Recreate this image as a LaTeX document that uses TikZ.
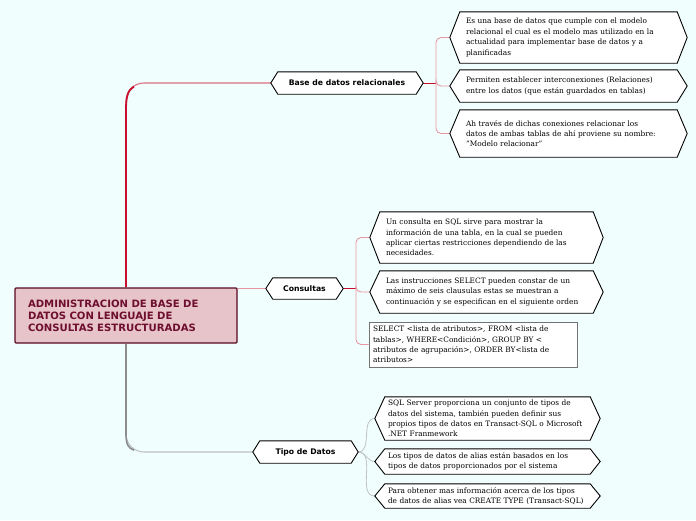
\documentclass[tikz,border=0pt]{standalone}
\usepackage{fontspec}
\setmainfont{DejaVu Serif}
\newfontfamily\sansbold{DejaVu Sans}
\usetikzlibrary{backgrounds}
\definecolor{bgc}{RGB}{240,255,254}
\definecolor{cfill}{RGB}{231,196,201}
\definecolor{cborder}{RGB}{90,10,34}
\definecolor{ctext}{RGB}{110,15,47}
\definecolor{redline}{RGB}{200,16,46}
\definecolor{pinkline}{RGB}{232,150,164}
\definecolor{grayline}{RGB}{140,140,140}
\definecolor{lgrayline}{RGB}{190,194,194}
\newcommand\hexout[2]{%
  \path[hexline] (#1.west) -- ([xshift=#2]#1.north west) -- ([xshift=-#2]#1.north east)
    -- (#1.east) -- ([xshift=-#2]#1.south east) -- ([xshift=#2]#1.south west) -- cycle;}
\begin{document}
\begin{tikzpicture}[x=1pt,y=-1pt,
  hexline/.style={draw=black,fill=white,line width=0.9pt,line join=miter},
  central/.style={draw=cborder,fill=cfill,line width=1.2pt,rounded corners=1pt,
    minimum width=222pt,minimum height=55pt,inner xsep=13pt,inner ysep=0pt,
    text width=196pt,align=left,text=ctext,
    font=\sansbold\bfseries\fontsize{10.1}{12}\selectfont},
  branch/.style={inner sep=0pt,minimum height=22pt,
    font=\sansbold\bfseries\fontsize{7.7}{9}\selectfont},
  child/.style={inner ysep=0pt,align=left,
    font=\fontsize{7.4}{10.4}\selectfont},
  rectchild/.style={draw=black!55,fill=white,line width=0.7pt,inner ysep=0pt,align=left,
    font=\fontsize{7.4}{10.4}\selectfont},
  redl/.style={draw=redline,line width=1pt},
  pinkl/.style={draw=pinkline,line width=0.9pt,rounded corners=5pt},
  grayl/.style={draw=lgrayline,line width=0.8pt}
]
\useasboundingbox (0,0) rectangle (696,520);

% nodes
\node[central] (root) at (126,315.5) {ADMINISTRACION DE BASE DE\\DATOS CON LENGUAJE DE\\CONSULTAS ESTRUCTURADAS};

\node[branch,minimum width=152pt] (b1) at (347,83) {Base de datos relacionales};
\node[branch,minimum width=77pt,minimum height=21pt] (b2) at (304.5,288.5) {Consultas};
\node[branch,minimum width=105pt] (b3) at (305.5,452) {Tipo de Datos};

\node[child,inner xsep=16pt,text width=205pt,minimum height=51pt] (c11) at (568.5,37.5)
 {Es una base de datos que cumple con el modelo\\relacional el cual es el modelo mas utilizado en la\\actualidad para implementar base de datos y a\\planificadas};
\node[child,inner xsep=16pt,text width=205pt,minimum height=32pt] (c12) at (568.5,86)
 {Permiten establecer interconexiones (Relaciones)\\entre los datos (que están guardados en tablas)};
\node[child,inner xsep=16pt,text width=205pt,minimum height=47pt] (c13) at (568.5,133.5)
 {Ah través de dichas conexiones relacionar los\\datos de ambas tablas de ahí proviene su nombre:\\"Modelo relacionar"};

\node[child,inner xsep=16pt,text width=201pt,minimum height=51pt] (c21) at (486.5,237.5)
 {Un consulta en SQL sirve para mostrar la\\información de una tabla, en la cual se pueden\\aplicar ciertas restricciones dependiendo de las\\necesidades.};
\node[child,inner xsep=16pt,text width=201pt,minimum height=42pt] (c22) at (486.5,292)
 {Las instrucciones SELECT pueden constar de un\\máximo de seis clausulas estas se muestran a\\continuación y se especifican en el siguiente orden};
\node[rectchild,inner xsep=4pt,text width=200pt,minimum height=45pt] (c23) at (473,344.5)
 {SELECT <lista de atributos>, FROM <lista de\\tablas>, WHERE<Condición>, GROUP BY <\\atributos de agrupación>, ORDER BY<lista de\\atributos>};

\node[child,inner xsep=13pt,text width=199pt,minimum height=43pt] (c31) at (487.5,418.5)
 {SQL Server proporciona un conjunto de tipos de\\datos del sistema, también pueden definir sus\\propios tipos de datos en Transact-SQL o Microsoft\\.NET Franmework};
\node[child,inner xsep=13pt,text width=199pt,minimum height=25pt] (c32) at (487.5,461.5)
 {Los tipos de datos de alias están basados en los\\tipos de datos proporcionados por el sistema};
\node[child,inner xsep=13pt,text width=199pt,minimum height=24pt] (c33) at (487.5,496)
 {Para obtener mas información acerca de los tipos\\de datos de alias vea CREATE TYPE (Transact-SQL)};

\coordinate (j1) at (436,83);
\coordinate (j2) at (356,288.5);

\begin{scope}[on background layer]
  \fill[bgc] (0,0) rectangle (696,520);
  % root to branch 1
  \draw[draw=pinkline!70!redline,line width=1.1pt,rounded corners=18pt] (root.north) |- (b1.west);
  \draw[draw=redline,line width=2.6pt] (root.north) -- (root.north |- 0,108);
  \draw[draw=redline,line width=1.8pt] (root.north |- 0,110) .. controls (126,96) and (128,90) .. (134,86.5);
  % root to branch 2
  \draw[draw=pinkline,line width=1pt] (b2.west -| root.east) -- (b2.west);
  % root to branch 3
  \draw[draw=lgrayline,line width=1.1pt,rounded corners=18pt] (root.south) |- (b3.west);
  \draw[draw=grayline,line width=2.6pt] (root.south) -- (root.south |- 0,436);
  \draw[draw=grayline,line width=1.6pt] (root.south |- 0,434) .. controls (126,444) and (128,448) .. (134,450.2);
  % branch 1 children
  \draw[redl] (b1.east) -- (j1);
  \draw[pinkl] (j1) |- (c11.west);
  \draw[pinkl] (j1) |- (c12.west);
  \draw[pinkl] (j1) |- (c13.west);
  % branch 2 children
  \draw[redl] (b2.east) -- (j2);
  \draw[pinkl] (j2) |- (c21.west);
  \draw[pinkl] (j2) |- (c22.west);
  \draw[pinkl] (j2) |- (c23.west);
  % branch 3 children
  \draw[grayl] (b3.east) to[out=0,in=180] (c31.west);
  \draw[grayl] (b3.east) to[out=0,in=180] (c32.west);
  \draw[grayl] (b3.east) to[out=0,in=180] (c33.west);
  % hexagon outlines
  \hexout{b1}{7pt}
  \hexout{b2}{7pt}
  \hexout{b3}{7pt}
  \hexout{c11}{10pt}
  \hexout{c12}{10pt}
  \hexout{c13}{10pt}
  \hexout{c21}{10pt}
  \hexout{c22}{10pt}
  \hexout{c31}{10pt}
  \hexout{c32}{10pt}
  \hexout{c33}{10pt}
\end{scope}
\end{tikzpicture}
\end{document}
